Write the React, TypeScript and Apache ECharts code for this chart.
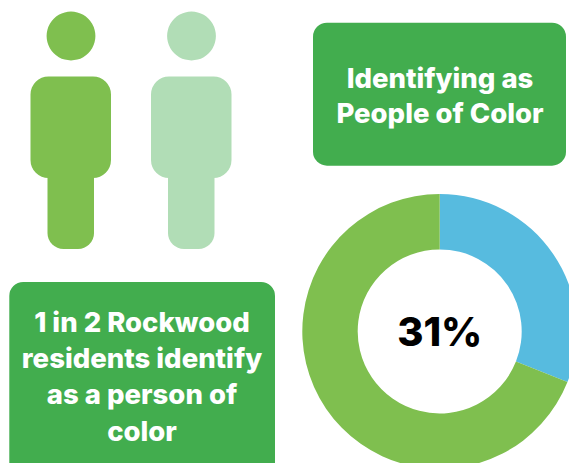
import React, { useEffect, useRef } from "react";
import * as echarts from "echarts";

const sliceNames = ["People of Color", "Other residents"];
const sliceValues = [31, 69];
const sliceColors = ["#57BBDF", "#7FBF4F"];
const titleLines = ["Identifying as", "People of Color"];
const noteLines = ["1 in 2 Rockwood", "residents identify", "as a person of", "color"];
const peopleColors = ["#7FBF4F", "#B1DDB6"];
const CARD = "#42AD4E";
const FONT = "Inter, Lato, sans-serif";

function person(dx: number, fill: string) {
  return [
    { type: "circle", shape: { cx: 71 + dx, cy: 36, r: 24.4 }, style: { fill } },
    { type: "rect", shape: { x: 47.5 + dx, y: 150, width: 46.5, height: 99, r: [0, 0, 16, 16] }, style: { fill } },
    { type: "rect", shape: { x: 30.5 + dx, y: 76.5, width: 80.5, height: 101.5, r: 18 }, style: { fill } },
  ];
}

function lines(list: string[], cx: number, middles: number[], size: number) {
  return list.map((text, i) => ({
    type: "text",
    x: cx,
    y: middles[i],
    style: { text, fill: "#fff", font: `800 ${size}px ${FONT}`, textAlign: "center", textVerticalAlign: "middle" },
  }));
}

export default function App() {
  const ref = useRef<HTMLDivElement>(null);
  useEffect(() => {
    document.body.style.margin = "0";
    const chart = echarts.init(ref.current!, undefined, { renderer: "svg" });
    chart.setOption({
      animation: false,
      backgroundColor: "#fff",
      series: [
        {
          type: "pie",
          silent: true,
          center: [439.7, 331.4],
          radius: [82, 137.4],
          startAngle: 90,
          clockwise: true,
          label: { show: false },
          labelLine: { show: false },
          data: sliceNames.map((name, i) => ({ name, value: sliceValues[i], itemStyle: { color: sliceColors[i] } })),
        },
      ],
      graphic: [
        ...person(0, peopleColors[0]),
        ...person(120.5, peopleColors[1]),
        { type: "rect", shape: { x: 313, y: 22.7, width: 253, height: 143, r: 14 }, style: { fill: CARD } },
        { type: "rect", shape: { x: 9.3, y: 282, width: 265.7, height: 200, r: 14 }, style: { fill: CARD } },
        ...lines(titleLines, 440, [77.5, 112.5], 27.5),
        ...lines(noteLines, 142, [322, 358, 394, 431], 27.5),
        {
          type: "text",
          x: 439.7,
          y: 331,
          style: {
            text: `${sliceValues[0]}%`,
            fill: "#000",
            font: `800 40px ${FONT}`,
            textAlign: "center",
            textVerticalAlign: "middle",
          },
        },
      ],
    });
    return () => chart.dispose();
  }, []);
  return <div ref={ref} style={{ width: 569, height: 463 }} />;
}
